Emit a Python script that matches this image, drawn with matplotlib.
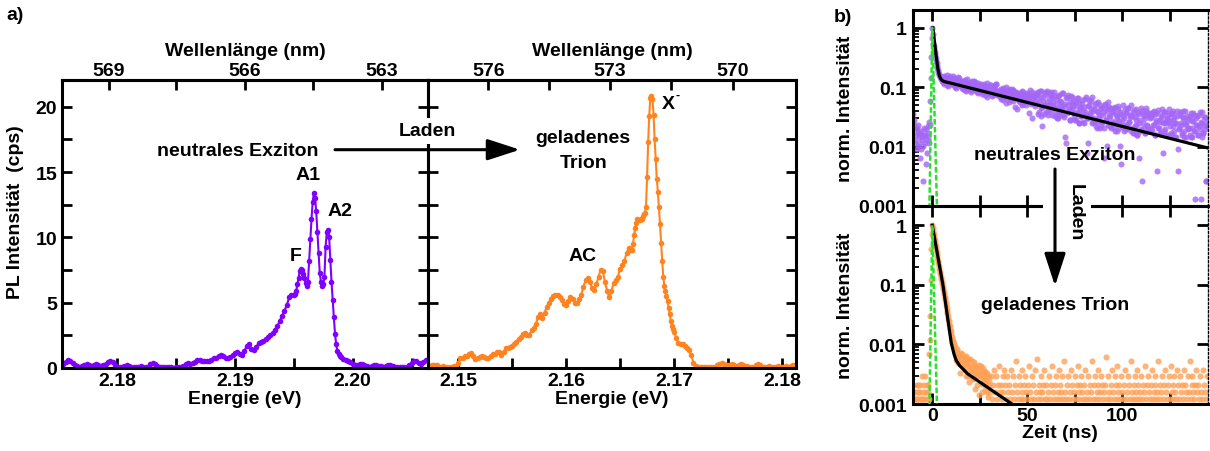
import numpy as np
import matplotlib
matplotlib.use('Agg')
import matplotlib.pyplot as plt
from matplotlib.ticker import FixedLocator, FixedFormatter, NullFormatter, LogLocator
from matplotlib.patches import FancyArrowPatch, Rectangle

plt.rcParams['font.family'] = ['Liberation Sans', 'DejaVu Sans']
plt.rcParams['font.weight'] = 'bold'
plt.rcParams['font.size'] = 14
plt.rcParams['axes.labelweight'] = 'bold'
plt.rcParams['axes.linewidth'] = 2.2

# ---------------- data ----------------
# neutral exciton PL spectrum (energy segments: start, step, intensities in cps)
ex_seg1_start, ex_seg1_step = 2.1754, 0.0002
ex_int1 = [0.3, 0.45, 0.6, 0.55, 0.35, 0.2, 0.15, 0.1, 0.15, 0.25,
           0.3, 0.2, 0.15, 0.25, 0.3, 0.2, 0.15, 0.2, 0.3, 0.45,
           0.55, 0.45, 0.25, 0.1, 0.05, 0.1, 0.15, 0.2, 0.15, 0.1,
           0.05, 0.1, 0.1, 0.15, 0.1, 0.05, 0.1, 0.3, 0.4, 0.3,
           0.15, 0.1, 0.1, 0.05, 0.1, 0.1, 0.05, 0.0, 0.05, 0.1,
           0.05, 0.15, 0.3, 0.35, 0.3, 0.35, 0.45, 0.6, 0.65, 0.55,
           0.5, 0.5, 0.55, 0.65, 0.75, 0.8, 0.95, 1.0, 0.9, 0.8,
           0.75, 0.85, 1.0, 1.15, 1.25, 1.1, 1.0, 1.3, 1.7, 1.8,
           1.45, 1.4, 1.6, 1.9, 2.0, 2.05, 2.2, 2.4, 2.5, 2.7,
           2.9, 3.2, 3.6, 4.0, 4.4, 4.8, 5.4, 5.6]
ex_seg2_start, ex_seg2_step = 2.1950, 0.0001
ex_int2 = [5.6, 5.7, 5.9, 6.4, 6.9, 7.4, 7.6, 7.5, 7.2, 6.9,
           6.5, 6.3, 6.6, 8.2, 9.9, 11.4, 12.7, 13.4, 13.0, 12.0,
           10.4, 8.8, 7.3, 6.6, 6.3, 6.4, 7.0, 9.3, 10.4, 10.6,
           10.0, 8.3, 6.6, 5.2, 3.9, 2.6, 1.8, 1.3, 1.05, 0.9,
           0.82]
ex_seg3_start, ex_seg3_step = 2.1992, 0.0002
ex_int3 = [0.7, 0.65, 0.55, 0.45, 0.3, 0.2, 0.25, 0.3, 0.3, 0.2,
           0.15, 0.1, 0.15, 0.25, 0.2, 0.15, 0.15, 0.1, 0.15, 0.2,
           0.2, 0.15, 0.1, 0.05, 0.1, 0.1, 0.05, 0.1, 0.2, 0.4,
           0.55, 0.5, 0.35, 0.3, 0.45, 0.6, 0.5]

# charged trion PL spectrum
tr_seg1_start, tr_seg1_step = 2.1472, 0.0002
tr_int1 = [0.1, 0.15, 0.2, 0.25, 0.2, 0.1, 0.1, 0.15, 0.1, 0.05,
           0.1, 0.1, 0.15, 0.1, 0.4, 0.75, 0.8, 0.9, 0.95, 1.05,
           1.15, 0.9, 0.7, 0.75, 0.85, 0.9, 0.85, 0.8, 0.75, 0.9,
           1.05, 1.1, 1.25, 1.2, 1.0, 1.2, 1.5, 1.55, 1.6, 1.7,
           1.8, 2.0, 2.25, 2.4, 2.6, 2.7, 2.55, 2.55, 2.9, 3.1,
           3.4, 3.9, 4.1, 3.8, 4.2, 4.7, 5.0, 5.3, 5.55, 5.6,
           5.6, 5.4, 5.2, 4.9, 4.85, 5.1, 5.4, 5.3, 5.0, 5.0,
           5.3, 5.6, 6.2, 6.75, 6.9, 6.6, 6.1, 6.0, 6.4, 7.0,
           7.5, 7.4, 6.6, 5.9, 5.4, 5.9, 6.5, 6.7, 7.0, 7.6,
           7.9, 8.2, 8.8, 9.2, 9.0]
tr_seg2_start, tr_seg2_step = 2.1661, 0.0001
tr_int2 = [9.0, 9.5, 10.2, 10.7, 11.1, 11.4, 11.3, 11.3, 11.4, 11.4,
           11.6, 11.8, 11.9, 12.3, 14.6, 17.3, 19.3, 20.7, 20.8, 20.6,
           19.4, 17.5, 16.0, 14.5, 13.5, 12.3, 11.0, 9.6, 8.2, 7.0,
           6.3, 5.9, 5.5, 5.1, 4.6, 4.1, 3.6, 3.2, 3.0, 2.75]
tr_seg3_start, tr_seg3_step = 2.1702, 0.0002
tr_int3 = [2.3, 1.95, 1.85, 1.8, 1.7, 1.55, 1.35, 1.0, 0.35, 0.15,
           0.1, 0.05, 0.1, 0.1, 0.05, 0.05, 0.1, 0.05, 0.1, 0.2,
           0.3, 0.4, 0.3, 0.2, 0.25, 0.2, 0.3, 0.2, 0.1, 0.2,
           0.3, 0.2, 0.1, 0.15, 0.1, 0.05, 0.1, 0.2, 0.3, 0.2,
           0.1, 0.05, 0.1, 0.15, 0.1, 0.05, 0.1, 0.15, 0.1, 0.05,
           0.1, 0.15, 0.1, 0.15, 0.2, 0.15]

# time-resolved PL, two interleaved lists of 0.5 ns spaced bins
# (series a starts at -10.00 ns, series b at -9.75 ns)
decay_t0_a, decay_t0_b, decay_dt = -10.0, -9.75, 0.5
ex_decay_norm = 770.0
ex_decay_a = [
    27, 18, 9, 12, 16, 8, 11, 13, 7, 10, 2, 12, 9, 15, 6, 11, 13, 20,
    45, 250, 770, 420, 340, 270, 215, 175, 150, 128, 118, 112,
    108, 96, 118, 92, 104, 85, 112, 99, 90, 121, 95, 86, 103, 110, 79, 98, 92, 115, 84, 100,
    88, 76, 97, 82, 70, 91, 79, 104, 73, 86, 68, 95, 81, 77, 99, 72, 84, 63, 90, 78,
    75, 88, 64, 70, 82, 58, 77, 69, 91, 61, 73, 66, 84, 55, 71, 79, 62, 86, 67, 59,
    64, 52, 73, 58, 47, 69, 61, 55, 78, 50, 63, 44, 67, 57, 72, 51, 60, 36, 65, 54,
    58, 46, 62, 50, 41, 66, 53, 44, 57, 39, 61, 49, 28, 55, 47, 63, 42, 52, 37, 58,
    42, 63, 29, 52, 25, 67, 36, 46, 27, 59, 38, 67, 32, 50, 40, 57, 26, 44, 64, 34,
    30, 48, 23, 57, 37, 26, 44, 33, 61, 24, 41, 9, 52, 31, 39, 22, 55, 35, 46, 28,
    37, 22, 50, 28, 42, 19, 33, 25, 47, 20, 36, 29, 53, 23, 9, 39, 26, 45, 19, 31,
    23, 39, 17, 31, 21, 43, 26, 16, 35, 20, 29, 5, 40, 22, 33, 18, 36, 25, 16, 30,
    29, 16, 36, 19, 25, 14, 33, 21, 8, 27, 17, 38, 23, 15, 30, 18, 34, 20, 26, 14,
    16, 29, 13, 24, 33, 18, 12, 27, 5, 22, 15, 31, 19, 25, 13, 35, 17, 28, 14, 23,
    24, 14, 30, 18, 12, 27, 20, 3, 32, 16, 22, 13, 26, 19, 29, 15, 12, 23, 20, 33,
    17, 27, 12, 22, 31, 14, 19, 11, 25, 7, 16, 29, 19, 13, 24, 11, 31, 18, 21, 15,
    23, 12, 28, 16, 11, 21, 26, 14, 18, 25, 12, 17, 30, 1, 19, 13, 24, 15, 2, 22, 18]
ex_decay_b = [
    22, 10, 15, 7, 13, 18, 9, 5, 14, 11, 8, 16, 12, 4, 10, 17, 9,
    18, 110, 520, 600, 380, 300, 240, 195, 160, 138, 122, 114, 106,
    99, 115, 88, 106, 93, 124, 81, 101, 109, 87, 97, 118, 83, 94, 107, 76, 102, 89, 111, 92,
    80, 94, 71, 87, 101, 66, 83, 92, 75, 89, 64, 97, 78, 85, 69, 93, 74, 88, 61, 82,
    69, 81, 60, 76, 87, 65, 72, 53, 79, 68, 84, 62, 74, 57, 80, 66, 71, 89, 58, 64,
    59, 68, 49, 63, 75, 54, 60, 42, 66, 56, 71, 48, 62, 53, 69, 45, 58, 64, 50, 33,
    53, 60, 44, 56, 38, 64, 49, 55, 43, 59, 47, 52, 68, 41, 54, 23, 50, 57, 45, 61,
    57, 27, 46, 67, 34, 17, 53, 38, 63, 29, 44, 26, 61, 40, 64, 32, 50, 36, 55, 25,
    41, 23, 54, 30, 46, 35, 61, 26, 37, 11, 50, 28, 57, 33, 22, 44, 31, 52, 39, 24,
    22, 43, 29, 51, 19, 36, 25, 40, 31, 19, 48, 26, 6, 37, 23, 47, 28, 33, 53, 20,
    33, 20, 42, 16, 29, 23, 38, 18, 34, 26, 16, 39, 22, 31, 8, 44, 25, 17, 35, 21,
    19, 34, 14, 27, 23, 37, 16, 30, 4, 21, 25, 14, 33, 18, 28, 15, 35, 20, 24, 38,
    25, 13, 32, 17, 22, 12, 29, 19, 14, 34, 2, 27, 16, 23, 13, 31, 18, 26, 15, 28,
    15, 26, 18, 31, 12, 22, 28, 16, 20, 13, 24, 33, 6, 20, 14, 29, 19, 23, 12, 27,
    21, 13, 28, 17, 24, 11, 19, 31, 3, 15, 26, 18, 12, 23, 31, 14, 19, 11, 25, 16,
    16, 25, 11, 21, 28, 14, 1, 23, 18, 12, 26, 15, 20, 11, 30, 13, 18, 24, 2, 17]
tr_decay_norm = 1000.0
tr_decay_a = [
    2.1, 1.2, 0, 1.6, 1.2, 2.1, 1.6, 0, 1.2, 2.9, 1.2, 2.1, 0, 1.6, 2.1, 1.2, 1.6,
    7, 30, 400,
    1000, 800, 640, 500, 400, 320, 255, 205, 165, 135, 112, 93, 76, 63, 51, 41,
    33, 27, 22, 18, 15, 12.5, 11, 9.5,
    8, 6.5, 7.5, 5.8, 6.8, 5.2, 7.2, 4.6, 6.1, 5.5, 3.7, 6.5, 4.8, 5.2, 2.9, 4.4, 5.8, 3.7,
    4.1, 2.6, 5.0, 3.3, 4.4, 2.1, 3.7, 4.6, 2.9, 3.3, 1.6, 4.0, 2.6, 3.5, 2.1, 3.0, 1.6, 2.9,
    2.1, 1.6, 2.9, 1.2, 2.1, 3.7, 1.6, 2.9, 1.2, 2.1, 4.4, 1.6, 2.1, 1.2, 2.9, 1.6, 3.7, 2.1, 1.2, 2.9,
    1.6, 2.1, 1.2, 3.7, 1.6, 2.9, 1.2, 2.1, 5.2, 1.6, 1.2, 2.9, 2.1, 1.2, 1.6, 3.7, 1.2, 2.1, 2.9, 1.6,
    1.2, 2.1, 4.4, 1.6, 1.2, 2.9, 2.1, 1.2, 3.7, 1.6, 5.8, 1.2, 2.1, 1.6, 2.9, 1.2, 1.6, 2.1, 3.7, 1.2,
    2.1, 1.2, 1.6, 2.9, 1.2, 2.1, 4.4, 1.6, 1.2, 2.1, 2.9, 1.2, 1.6, 3.7, 1.2, 2.1, 1.6, 2.9, 1.2, 5.2,
    1.6, 1.2, 2.1, 2.9, 1.2, 1.6, 3.7, 2.1, 1.2, 1.6, 2.9, 1.2, 2.1, 4.4, 1.6, 1.2, 2.1, 2.9, 1.6, 1.2,
    2.1, 3.7, 1.2, 1.6, 2.9, 1.2, 2.1, 1.6, 5.2, 1.2, 2.1, 2.9, 1.2, 1.6, 2.1, 3.7, 1.2, 1.6, 2.9, 2.1,
    1.2, 1.6, 2.1, 6.1, 1.2, 2.9, 1.6, 1.2, 2.1, 3.7, 1.6, 1.2, 2.9, 2.1, 1.2, 4.4, 1.6, 2.1, 1.2, 2.9,
    1.6, 1.2, 2.1, 3.7, 1.2, 1.6, 2.9, 2.1, 1.2, 5.2, 1.6, 1.2, 2.1, 2.9, 1.6, 1.2, 3.7, 2.1, 1.2, 1.6,
    2.9, 1.2, 2.1, 1.6, 4.4, 1.2, 2.1, 2.9, 1.6, 1.2, 2.1, 3.7, 1.2, 1.6, 2.9, 2.1, 1.2, 1.6, 5.2, 1.2,
    2.1, 1.6, 2.9, 1.2, 2.1, 3.7, 1.6, 1.2, 2.1, 2.9, 1.2, 4.4, 1.6, 2.1, 1.2, 2.9, 1.6, 1.2, 3.7, 2.1,
    1.2, 2.9, 1.6, 2.1, 1.2, 3.7, 2.1, 1.6, 1.2, 2.9, 1.6, 5.2, 1.2, 2.1, 2.9, 1.6, 1.2, 2.1, 3.7, 1.6,
    2.1, 1.2, 2.9, 1.6, 1.2, 3.7, 2.1, 1.6, 1.2, 2.9]
tr_decay_b = [
    1.6, 0, 1.2, 2.1, 0, 1.2, 1.6, 2.1, 1.2, 0, 1.6, 1.2, 2.9, 1.2, 0, 2.1, 1.2,
    12, 120, 700,
    900, 720, 570, 450, 360, 285, 230, 185, 150, 123, 102, 84, 69, 57, 46, 37,
    30, 24.5, 20, 16.5, 13.5, 11.5, 10, 9,
    7, 5.5, 8.5, 4.9, 6.3, 3.3, 5.8, 7.0, 4.1, 5.2, 6.1, 3.0, 4.7, 5.6, 2.3, 4.2, 3.6, 5.2,
    2.7, 4.6, 3.2, 1.8, 4.0, 2.9, 3.5, 1.4, 3.1, 4.3, 2.2, 2.7, 3.6, 1.7, 2.5, 3.3, 1.3, 2.4]

# fit curves (knots) and instrument response
ex_fit_t = [0.3, 1, 2, 3, 3.8, 4.5, 5.5, 7, 9, 145]
ex_fit_y = [1.0, 0.65, 0.35, 0.2, 0.155, 0.138, 0.128, 0.123, 0.119, 0.0095]
tr_fit_t = [0, 5.6, 10, 11.5, 12.6, 14.4, 18.7, 43]
tr_fit_y = [1.0, 0.1, 0.0105, 0.0068, 0.0054, 0.0044, 0.0032, 0.00095]
irf_t = [-1.5, 0, 2.5]
irf_y = [0.0009, 1.0, 0.0009]

# axis tick values
ex_E_ticks = [2.18, 2.19, 2.20]
tr_E_ticks = [2.15, 2.16, 2.17, 2.18]
ex_wl_ticks = [569, 566, 563]
tr_wl_ticks = [576, 573, 570]
pl_ticks = [0, 5, 10, 15, 20]
time_ticks = [0, 50, 100]
log_ticks = [0.001, 0.01, 0.1, 1]
log_labels = ['0.001', '0.01', '0.1', '1']

PURPLE = '#7f00ff'
ORANGE = '#ff8420'
PURPLE_PTS = '#a466f6'
ORANGE_PTS = '#ffa055'
GREEN = '#2be02b'

# ---------------- figure ----------------
W, H = 1210, 452
fig = plt.figure(figsize=(W / 100, H / 100), dpi=100)


def fbox(x0, y0, x1, y1):
    return [x0 / W, 1 - y1 / H, (x1 - x0) / W, (y1 - y0) / H]


def fx(x):
    return x / W


def fy(y):
    return 1 - y / H


def seg(start, step, vals):
    return start + step * np.arange(len(vals))


ax1 = fig.add_axes(fbox(62, 81, 428, 369))
ax2 = fig.add_axes(fbox(428, 81, 796, 369))
ax3 = fig.add_axes(fbox(912.7, 11, 1207.5, 207))
ax4 = fig.add_axes(fbox(912.7, 207, 1207.5, 405))
for ax in (ax1, ax2, ax3, ax4):
    ax.set_facecolor('none')

ex_E = np.concatenate([seg(ex_seg1_start, ex_seg1_step, ex_int1),
                       seg(ex_seg2_start, ex_seg2_step, ex_int2),
                       seg(ex_seg3_start, ex_seg3_step, ex_int3)])
ex_I = np.array(ex_int1 + ex_int2 + ex_int3)
tr_E = np.concatenate([seg(tr_seg1_start, tr_seg1_step, tr_int1),
                       seg(tr_seg2_start, tr_seg2_step, tr_int2),
                       seg(tr_seg3_start, tr_seg3_step, tr_int3)])
tr_I = np.array(tr_int1 + tr_int2 + tr_int3)

ax1.plot(ex_E, ex_I, '-o', color=PURPLE, lw=1.5, ms=4.0, mew=0)
ax2.plot(tr_E, tr_I, '-o', color=ORANGE, lw=1.5, ms=4.0, mew=0)


def to_wl(e):
    e = np.asarray(e, dtype=float)
    with np.errstate(divide='ignore', invalid='ignore'):
        return 1240.0 / e


for ax, xl, xt, wt in ((ax1, (2.1753, 2.2064), ex_E_ticks, ex_wl_ticks),
                       (ax2, (2.1472, 2.1813), tr_E_ticks, tr_wl_ticks)):
    ax.set_xlim(*xl)
    ax.set_ylim(0, 22.05)
    ax.xaxis.set_major_locator(FixedLocator(xt))
    ax.xaxis.set_major_formatter(FixedFormatter(['%.2f' % v for v in xt]))
    ax.xaxis.set_minor_locator(FixedLocator([v + 0.005 for v in [xt[0] - 0.01] + xt]))
    ax.yaxis.set_major_locator(FixedLocator(pl_ticks))
    ax.yaxis.set_minor_locator(FixedLocator([2.5, 7.5, 12.5, 17.5]))
    ax.tick_params(axis='both', which='both', direction='in', length=7, width=2,
                   top=False, bottom=True, left=True, right=True, labelsize=14)
    ax.tick_params(axis='x', pad=3)
    ax.tick_params(axis='y', pad=3.5)
    ax.set_xlabel('Energie (eV)', fontsize=14, fontweight='bold', labelpad=0.5)
    sec = ax.secondary_xaxis('top', functions=(to_wl, to_wl))
    sec.xaxis.set_major_locator(FixedLocator(wt))
    sec.xaxis.set_major_formatter(FixedFormatter([str(v) for v in wt]))
    sec.xaxis.set_minor_locator(FixedLocator([wt[0] - 1.5, wt[1] - 1.5]))
    sec.xaxis.set_minor_formatter(NullFormatter())
    sec.tick_params(axis='x', which='both', direction='in', length=7, width=2,
                    labelsize=14, pad=1)
    sec.spines['top'].set_linewidth(2.2)
    sec.set_xlabel('Wellenlänge (nm)', fontsize=14, fontweight='bold', labelpad=4.5)

ax2.tick_params(axis='y', labelleft=False)

# decay panels
PTS = dict(ls='none', marker='o', ms=4.4, mew=0, alpha=0.8, zorder=2)
for ax, lists, t0s, norm, col in (
        (ax3, (ex_decay_a, ex_decay_b), (decay_t0_a, decay_t0_b), ex_decay_norm, PURPLE_PTS),
        (ax4, (tr_decay_a, tr_decay_b), (decay_t0_a, decay_t0_b), tr_decay_norm, ORANGE_PTS)):
    for vals, t0 in zip(lists, t0s):
        t = t0 + decay_dt * np.arange(len(vals))
        y = np.array(vals, dtype=float) / norm
        m = y > 0
        ax.plot(t[m], y[m], color=col, **PTS)

ax3.plot(ex_fit_t, ex_fit_y, color='black', lw=2.3, zorder=3)
ax4.plot(tr_fit_t, tr_fit_y, color='black', lw=2.3, zorder=3)
for ax in (ax3, ax4):
    ax.plot(irf_t, irf_y, color=GREEN, lw=1.8, dashes=(2.2, 1.0), zorder=4)

for ax, top in ((ax3, 2.0), (ax4, 2.1)):
    ax.set_yscale('log')
    ax.set_ylim(0.001, top)
    ax.set_xlim(-10.3, 144.9)
    ax.yaxis.set_major_locator(FixedLocator(log_ticks))
    ax.yaxis.set_major_formatter(FixedFormatter(log_labels))
    ax.yaxis.set_minor_locator(LogLocator(base=10, subs=np.arange(2, 10), numticks=20))
    ax.yaxis.set_minor_formatter(NullFormatter())
    ax.xaxis.set_major_locator(FixedLocator(time_ticks))
    ax.xaxis.set_minor_locator(FixedLocator([25, 75, 125]))
    ax.tick_params(axis='y', which='major', direction='in', length=8, width=2,
                   left=True, right=True, labelsize=14, pad=4.5)
    ax.tick_params(axis='y', which='minor', direction='in', length=4.5, width=1.3,
                   left=True, right=False)
    ax.tick_params(axis='x', which='both', direction='in', length=8, width=2,
                   top=True, bottom=True, labelsize=14, pad=2.5)
    ax.spines['right'].set_linewidth(1.0)
    ax.spines['right'].set_linestyle((0, (1.5, 1.5)))

ax3.tick_params(axis='x', labelbottom=False)
ax4.set_xlabel('Zeit (ns)', fontsize=14, fontweight='bold', labelpad=0)

# ---------------- texts & arrows ----------------
TXT = dict(ha='center', va='center', fontsize=14, fontweight='bold')
fig.text(fx(15), fy(16), 'a)', **TXT)
fig.text(fx(843), fy(17), 'b)', **TXT)
fig.text(fx(15.8), fy(212), 'PL Intensität  (cps)', rotation=90, **TXT)
fig.text(fx(845), fy(109), 'norm. Intensität', rotation=90, **TXT)
fig.text(fx(845), fy(306), 'norm. Intensität', rotation=90, **TXT)

fig.text(fx(237.5), fy(151.7), 'neutrales Exziton', **TXT)
fig.text(fx(296), fy(256.7), 'F', **TXT)
fig.text(fx(308.3), fy(175.5), 'A1', **TXT)
fig.text(fx(340), fy(212), 'A2', **TXT)
fig.text(fx(583.3), fy(138.3), 'geladenes', **TXT)
fig.text(fx(583.3), fy(163.3), 'Trion', **TXT)
fig.text(fx(582.5), fy(256.7), 'AC', **TXT)
fig.text(fx(668.3), fy(104.2), 'X', **TXT)
fig.text(fx(677.5), fy(96), '-', ha='center', va='center', fontsize=9, fontweight='bold')

fig.text(fx(427.5), fy(132), 'Laden', zorder=5,
         bbox=dict(facecolor='white', edgecolor='none', pad=3.5), **TXT)
fig.add_artist(FancyArrowPatch((fx(335), fy(150.7)), (fx(520), fy(150.7)),
                               transform=fig.transFigure,
                               arrowstyle='-|>,head_length=2.0,head_width=0.65',
                               mutation_scale=10, lw=2.2, color='black',
                               shrinkA=0, shrinkB=0, zorder=6))

fig.text(fx(1055), fy(155), 'neutrales Exziton', zorder=5, **TXT)
fig.text(fx(1055.5), fy(306), 'geladenes Trion', zorder=5, **TXT)
fig.add_artist(Rectangle((fx(1043), fy(216)), fx(1091) - fx(1043), fy(198) - fy(216),
                         transform=fig.transFigure, facecolor='white',
                         edgecolor='none', zorder=4))
fig.text(fx(1075), fy(213), 'Laden', rotation=270, zorder=5, **TXT)
fig.add_artist(FancyArrowPatch((fx(1055), fy(170)), (fx(1055), fy(287)),
                               transform=fig.transFigure,
                               arrowstyle='-|>,head_length=2.0,head_width=0.65',
                               mutation_scale=10, lw=2.2, color='black',
                               shrinkA=0, shrinkB=0, zorder=6))

fig.savefig('out.png', dpi=100)
